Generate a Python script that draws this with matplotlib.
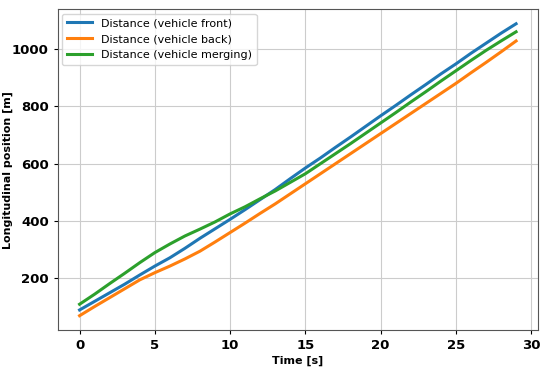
import matplotlib
matplotlib.use("Agg")
import matplotlib.pyplot as plt

time_s = list(range(30))
front = [90, 120, 150, 180, 212, 243, 272, 305, 340, 373, 406, 440, 475, 510, 548,
         585, 620, 657, 693, 730, 767, 803, 840, 876, 913, 948, 985, 1020, 1055, 1088]
back = [70, 102, 133, 164, 195, 220, 243, 268, 295, 327, 360, 393, 427, 460, 495,
        530, 565, 600, 635, 670, 705, 740, 775, 810, 845, 880, 917, 953, 990, 1028]
merging = [110, 145, 182, 218, 255, 290, 320, 348, 372, 397, 425, 450, 478, 505, 535,
           565, 600, 635, 670, 706, 742, 778, 815, 851, 888, 924, 960, 995, 1028, 1060]
labels = ["Distance (vehicle front)", "Distance (vehicle back)", "Distance (vehicle merging)"]

fig = plt.figure(figsize=(5.5, 3.67), dpi=100)
ax = fig.add_axes([0.105, 0.1, 0.873, 0.875])
ax.plot(time_s, front, color="#1f77b4", lw=2.2, label=labels[0])
ax.plot(time_s, back, color="#ff7f0e", lw=2.2, label=labels[1])
ax.plot(time_s, merging, color="#2ca02c", lw=2.2, label=labels[2])

ax.grid(True, color="#cccccc", lw=0.8)
ax.set_axisbelow(True)
for s in ax.spines.values():
    s.set_color("#555555")
ax.tick_params(colors="black", length=3, labelsize=9.5)
ax.set_yticks([200, 400, 600, 800, 1000])
ax.set_xticks([0, 5, 10, 15, 20, 25, 30])
for lab in ax.get_xticklabels() + ax.get_yticklabels():
    lab.set_fontweight("bold")
ax.set_xlabel("Time [s]", fontweight="bold", fontsize=8)
ax.xaxis.set_label_coords(0.5, -0.078)
ax.set_ylabel("Longitudinal position [m]", fontweight="bold", fontsize=8)
ax.yaxis.set_label_coords(-0.094, 0.5)
ax.legend(loc="upper left", fontsize=8, handlelength=2.3, borderaxespad=0.4,
          labelspacing=0.55)

fig.savefig("out.png", dpi=100)
